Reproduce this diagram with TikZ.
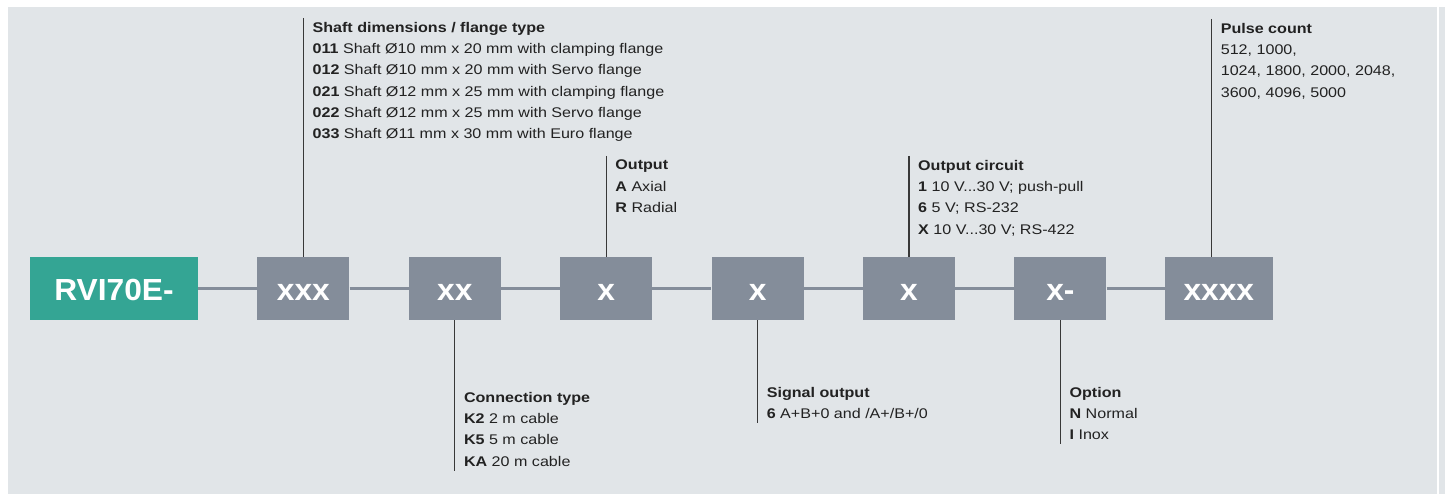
\documentclass[tikz,border=0pt]{standalone}
\usepackage{fontspec}
\setmainfont{Liberation Sans}
\newfontfamily\notefont[FakeStretch=1.15]{Liberation Sans}
\newfontfamily\keyfont[FakeStretch=1.04]{Liberation Sans}
\usepackage{xcolor}
\usetikzlibrary{positioning}

\definecolor{bgcol}{HTML}{E1E5E8}
\definecolor{tealcol}{HTML}{34A594}
\definecolor{boxcol}{HTML}{848D9A}
\definecolor{inkcol}{HTML}{222222}
\newcommand{\ky}[1]{\textbf{#1}}

\begin{document}
\begin{tikzpicture}[x=1pt,y=-1pt,
		keybox/.style={fill=boxcol, text=white, inner sep=0pt, minimum width=92pt,
			text height=43pt, text depth=20pt, font=\keyfont\fontsize{30.5}{30}\selectfont\bfseries},
		note/.style={align=left, anchor=north west, inner xsep=9pt, inner ysep=4pt,
			text=inkcol, font=\notefont\fontsize{14}{21.3}\selectfont},
		leader/.style={draw=inkcol!90, line width=1.3pt},
		bus/.style={draw=boxcol, line width=3.5pt}]
		
		% background
		\useasboundingbox (0,0) rectangle (1450,494);
		\fill[bgcol] (8,7) rectangle (1437,494);
		\fill[bgcol] (1439,7) rectangle (1445,494);
		
		% type key boxes
		\node[keybox, fill=tealcol, minimum width=168pt] (code) at (114,288.5) {RVI70E-};
		\node[keybox, right=59pt of code] (shaft) {xxx};
		\node[keybox, right=59pt of shaft] (conn) {xx};
		\node[keybox, right=59pt of conn] (out) {x};
		\node[keybox, right=59pt of out] (sig) {x};
		\node[keybox, right=59pt of sig] (circ) {x};
		\node[keybox, right=59pt of circ] (opt) {x-};
		\node[keybox, right=58pt of opt, minimum width=108pt] (pulse) {xxxx};
		
		% bus between the boxes
		\draw[bus] (code) -- (shaft) -- (conn) -- (out) -- (sig) -- (circ) -- (opt) -- (pulse);
		
		% notes above
		\node[note] (lshaft) at (shaft.north |- 0,18) {\ky{Shaft dimensions / flange type}\\
			\ky{011} Shaft Ø10 mm x 20 mm with clamping flange\\
			\ky{012} Shaft Ø10 mm x 20 mm with Servo flange\\
			\ky{021} Shaft Ø12 mm x 25 mm with clamping flange\\
			\ky{022} Shaft Ø12 mm x 25 mm with Servo flange\\
			\ky{033} Shaft Ø11 mm x 30 mm with Euro flange};
		\node[note] (lout) at (out.north |- 0,156) {\ky{Output}\\
			\ky{A} Axial\\
			\ky{R} Radial};
		\node[note] (lcirc) at (circ.north |- 0,156) {\ky{Output circuit}\\
			\ky{1} 10 V...30 V; push-pull\\
			\ky{6} 5 V; RS-232\\
			\ky{X} 10 V...30 V; RS-422};
		\node[note] (lpulse) at ([xshift=47pt]pulse.north west |- 0,19) {\ky{Pulse count}\\
			512, 1000,\\
			1024, 1800, 2000, 2048,\\
			3600, 4096, 5000};
		
		% notes below
		\node[note] (lconn) at (conn.south |- 0,388) {\ky{Connection type}\\
			\ky{K2} 2 m cable\\
			\ky{K5} 5 m cable\\
			\ky{KA} 20 m cable};
		\node[note] (lsig) at (sig.south |- 0,383) {\ky{Signal output}\\
			\ky{6} A+B+0 and /A+/B+/0};
		\node[note] (lopt) at (opt.south |- 0,383) {\ky{Option}\\
			\ky{N} Normal\\
			\ky{I} Inox};
		
		% leader lines
		\draw[leader] (lshaft.north west) -- (shaft.north);
		\draw[leader] (lout.north west) -- (out.north);
		\draw[leader] (lcirc.north west) -- (circ.north);
		\draw[leader] (lpulse.north west) -- (lpulse.west |- pulse.north);
		\draw[leader] (conn.south) -- (lconn.south west);
		\draw[leader] (sig.south) -- (lsig.south west);
		\draw[leader] (opt.south) -- (lopt.south west);
		
	\end{tikzpicture}
\end{document}
